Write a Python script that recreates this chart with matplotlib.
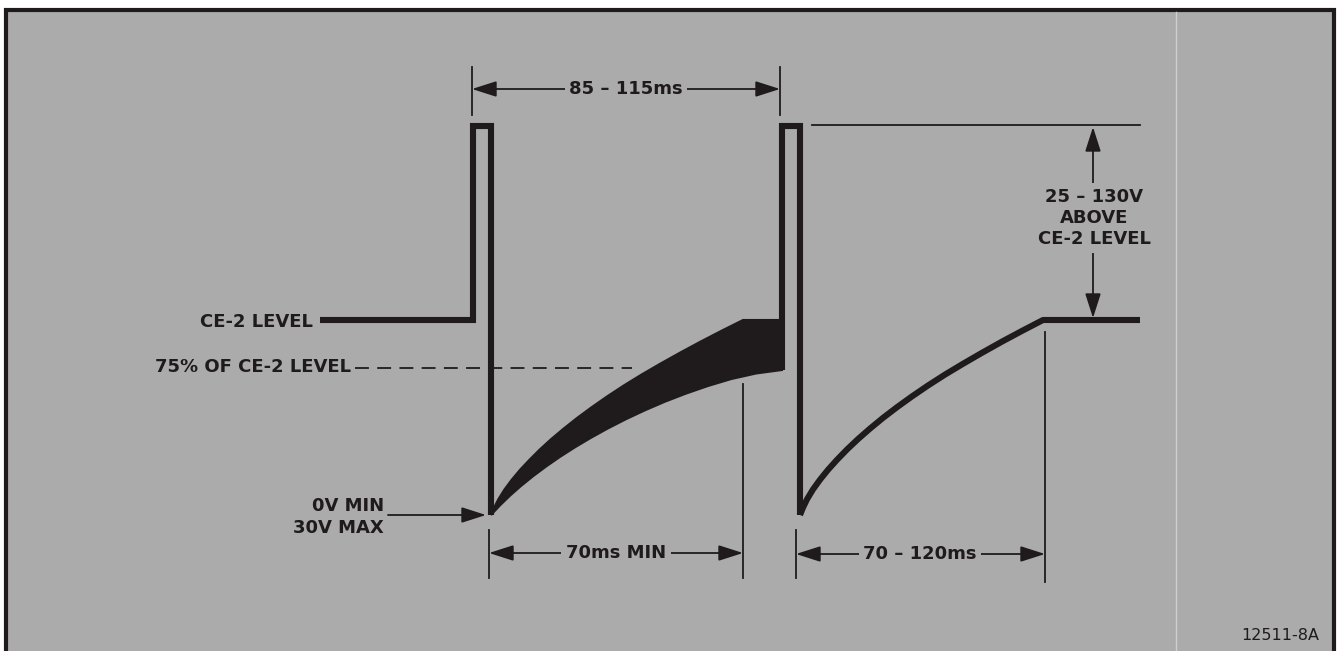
import matplotlib.pyplot as plt

plt.rcParams['font.family'] = ['DejaVu Sans']
plt.rcParams['lines.scale_dashes'] = False

W, H = 1339, 651
bg = '#ababab'
ink = '#1f1b1d'

# waveform, in drawing units (pixels of the original sheet, y down)
ce2_x = [320, 473, 473, 491, 491]
ce2_y = [320, 320, 126, 126, 515]

# upper and lower edge of the shaded recovery band
band_top_x = [491, 494.1, 498.3, 504.5, 511.7, 520, 529.4, 539.7, 551.1, 563.6, 577.1,
              591.6, 607.1, 623.7, 641.4, 660, 679.7, 700.5, 721.2, 743, 782]
band_top_y = [515, 507.6, 499.3, 489.4, 479.7, 469.8, 459.8, 449.5, 439.1, 428.6, 417.9,
              407.2, 396.4, 385.5, 374.6, 363.8, 352.8, 341.6, 330.9, 320, 320]
band_bot_x = [782, 756, 731, 708, 686, 665, 645, 626, 608, 591, 575, 560, 546, 533,
              521, 510, 500, 491]
band_bot_y = [370, 373.5, 379.1, 386, 393.6, 401.7, 410.3, 419.2, 428.4, 437.8, 447.3,
              456.9, 466.6, 476.3, 486, 495.7, 505.4, 515]

pulse2_x = [782, 782, 800, 800]
pulse2_y = [370, 126, 126, 515]

curve2_x = [800, 803, 807, 813, 820, 828, 837, 847, 858, 870, 883, 897, 912, 928,
            945, 963, 982, 1002, 1022, 1043, 1140]
curve2_y = [515, 507.6, 499.3, 489.4, 479.7, 469.8, 459.8, 449.5, 439.1, 428.6, 417.9,
            407.2, 396.4, 385.5, 374.6, 363.8, 352.8, 341.6, 330.9, 320, 320]

dash_x = [355, 632]
dash_y = [368, 368]

fig = plt.figure(figsize=(W / 100, H / 100), dpi=100, facecolor='white')
ax = fig.add_axes([0, 0, 1, 1])
ax.set_xlim(0, W)
ax.set_ylim(H, 0)
ax.axis('off')

# grey sheet and frame
ax.add_patch(plt.Rectangle((6, 10), 1328, 660, facecolor=bg, edgecolor='none', zorder=0))
ax.plot([6, 6, 1334, 1334], [H + 5, 10, 10, H + 5], color=ink, lw=3, solid_joinstyle='miter')
ax.plot([1176, 1176], [12, H], color='#cfcfcf', lw=1)

wave = dict(color=ink, lw=4.4, solid_joinstyle='miter', solid_capstyle='butt', zorder=3)
ax.plot(ce2_x, ce2_y, **wave)
ax.fill(band_top_x + band_bot_x, band_top_y + band_bot_y, color=ink, lw=1.5, zorder=3)
ax.plot(pulse2_x, pulse2_y, **wave)
ax.plot(curve2_x, curve2_y, color=ink, lw=4.4, solid_joinstyle='round', solid_capstyle='butt', zorder=3)

ax.plot(dash_x, dash_y, color=ink, lw=1.3, dashes=(10, 6))

thin = dict(color=ink, lw=1.3)
# extension lines
ax.plot([472, 472], [67, 115], **thin)
ax.plot([780, 780], [67, 115], **thin)
ax.plot([489, 489], [530, 578], **thin)
ax.plot([743, 743], [384, 578], **thin)
ax.plot([796, 796], [530, 578], **thin)
ax.plot([1045, 1045], [332, 582], **thin)
ax.plot([812, 1140], [125, 125], **thin)

arrow = dict(arrowstyle='<|-|>,head_length=0.75,head_width=0.24', mutation_scale=20,
             color=ink, lw=1.3, shrinkA=0, shrinkB=0)
one_way = dict(arrow, arrowstyle='-|>,head_length=0.75,head_width=0.24')

txt = dict(fontsize=13, fontweight='bold', color=ink, ha='center', va='center')
box = dict(boxstyle='square,pad=0.25', facecolor=bg, edgecolor='none')

ax.annotate('', xy=(472, 89), xytext=(780, 89), arrowprops=arrow)
ax.text(626, 89, '85 – 115ms', bbox=box, zorder=4, **txt)

ax.annotate('', xy=(489, 553), xytext=(743, 553), arrowprops=arrow)
ax.text(616, 553, '70ms MIN', bbox=box, zorder=4, **txt)

ax.annotate('', xy=(796, 554), xytext=(1045, 554), arrowprops=arrow)
ax.text(920, 554, '70 – 120ms', bbox=box, zorder=4, **txt)

ax.annotate('', xy=(1093, 127), xytext=(1093, 318), arrowprops=arrow)
ax.text(1094, 218, '25 – 130V\nABOVE\nCE-2 LEVEL', linespacing=1.25,
        bbox=dict(box, pad=0.4), zorder=4, **txt)

ax.annotate('', xy=(486, 515), xytext=(388, 515), arrowprops=one_way)
ax.text(384, 517, '0V MIN\n30V MAX', fontsize=13, fontweight='bold', color=ink,
        ha='right', va='center', multialignment='right', linespacing=1.25)

ax.text(313, 322, 'CE-2 LEVEL', fontsize=13, fontweight='bold', color=ink, ha='right', va='center')
ax.text(351, 367, '75% OF CE-2 LEVEL', fontsize=13, fontweight='bold', color=ink,
        ha='right', va='center')

ax.text(1280, 636, '12511-8A', fontsize=11.5, color=ink, ha='center', va='center')

fig.savefig('out.png', dpi=100, facecolor='white')
